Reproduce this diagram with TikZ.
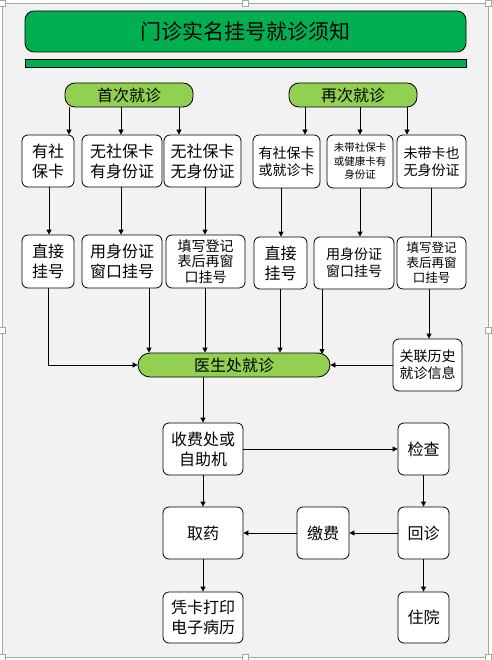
\documentclass[tikz,border=0pt]{standalone}
\usepackage{fontspec}
\setmainfont{Noto Sans CJK SC}
\usetikzlibrary{arrows.meta}
\definecolor{gA}{HTML}{00B050}
\definecolor{gB}{HTML}{92D050}
\definecolor{bg}{HTML}{F2F2F2}
\definecolor{frm}{HTML}{A6A6A6}
\newcommand{\fs}[2]{\fontsize{#1}{#2}\selectfont}
\tikzset{
  x=1pt,y=-1pt,
  box/.style={draw, line width=0.8pt, rounded corners=6pt, fill=white, inner sep=0pt, align=center, font=\fs{16}{20}},
  pill/.style={draw, line width=0.8pt, fill=gB, inner sep=0pt, align=center, font=\fs{16}{20}},
  conn/.style={line width=0.8pt},
  arr/.style={line width=0.8pt, -{Triangle[length=5pt,width=5pt]}},
  handle/.style={draw=frm, fill=white, line width=0.6pt, minimum size=6pt, inner sep=0pt}
}
\begin{document}
\begin{tikzpicture}
\useasboundingbox (0,0) rectangle (491,660);
\fill[white] (0,0) rectangle (491,660);
\draw[frm, fill=bg, line width=0.8pt] (2,3) rectangle (488,657);
\foreach \p/\q in {2/3,245/3,488/3,2/330,488/330,2/657,245/657,488/657}
  \node[handle] at (\p,\q) {};

% title
\node[draw, line width=0.8pt, fill=gA, rounded corners=9pt, minimum width=441pt, minimum height=41pt, inner sep=0pt, font=\fs{21}{24}] (title) at (245.5,31.5) {门诊实名挂号就诊须知};
\node[draw, line width=0.8pt, fill=gA, minimum width=441pt, minimum height=8pt, inner sep=0pt] (bar) at (245.5,63) {};

\node[pill, rounded corners=10pt, minimum width=128pt, minimum height=24pt] (first) at (129,95) {首次就诊};
\node[pill, rounded corners=10pt, minimum width=128pt, minimum height=24pt] (again) at (353,95) {再次就诊};

% row 1 left
\node[box, minimum width=52pt, minimum height=52pt] (a1) at (48,161) {有社\\保卡};
\node[box, minimum width=80pt, minimum height=52pt] (b1) at (122,161) {无社保卡\\有身份证};
\node[box, minimum width=77pt, minimum height=52pt] (c1) at (202.5,161) {无社保卡\\无身份证};
% row 2 left
\node[box, minimum width=52pt, minimum height=53pt] (a2) at (48,261.5) {直接\\挂号};
\node[box, minimum width=80pt, minimum height=53pt] (b2) at (122,261.5) {用身份证\\窗口挂号};
\node[box, minimum width=79pt, minimum height=53pt, font=\fs{14}{15.5}] (c2) at (205.5,261.5) {填写登记\\表后再窗\\口挂号};
% row 1 right
\node[box, minimum width=67pt, minimum height=53pt, font=\fs{14}{17}] (d1) at (286.5,161.5) {有社保卡\\或就诊卡};
\node[box, minimum width=66pt, minimum height=53pt, font=\fs{10.5}{13.5}] (e1) at (360,161.5) {未带社保卡\\或健康卡有\\身份证};
\node[box, minimum width=69pt, minimum height=53pt, font=\fs{14}{17}] (f1) at (431.5,161.5) {未带卡也\\无身份证};
% row 2 right
\node[box, minimum width=53pt, minimum height=52pt] (d2) at (280.5,263) {直接\\挂号};
\node[box, minimum width=80pt, minimum height=52pt, font=\fs{14}{17}] (e2) at (354,263) {用身份证\\窗口挂号};
\node[box, minimum width=69pt, minimum height=52pt, font=\fs{12.5}{15}] (f2) at (431.5,263) {填写登记\\表后再窗\\口挂号};

\node[pill, rounded corners=12pt, minimum width=192pt, minimum height=24pt] (doc) at (234,365) {医生处就诊};
\node[box, minimum width=69pt, minimum height=52pt, font=\fs{14}{17}] (rel) at (427.5,365) {关联历史\\就诊信息};

\node[box, minimum width=80pt, minimum height=52pt] (pay) at (203,449) {收费处或\\自助机};
\node[box, minimum width=51pt, minimum height=52pt] (chk) at (423.5,449) {检查};
\node[box, minimum width=80pt, minimum height=52pt] (med) at (203,533) {取药};
\node[box, minimum width=52pt, minimum height=52pt] (fee) at (323,533) {缴费};
\node[box, minimum width=51pt, minimum height=52pt] (back) at (423.5,533) {回诊};
\node[box, minimum width=80pt, minimum height=51pt] (prt) at (203,617.5) {凭卡打印\\电子病历};
\node[box, minimum width=51pt, minimum height=51pt] (hosp) at (423.5,617.5) {住院};

% from first / again
\draw[arr] (first.south -| 69,0) -- (a1.north -| 69,0);
\draw[arr] (first.south -| 121,0) -- (b1.north -| 121,0);
\draw[arr] (first.south -| 179,0) -- (c1.north -| 179,0);
\draw[arr] (again.south -| 305,0) -- (d1.north -| 305,0);
\draw[arr] (again.south -| 360,0) -- (e1.north -| 360,0);
\draw[arr] (again.south -| 407,0) -- (f1.north -| 407,0);

% row1 -> row2
\draw[arr] (a1.south -| 49,0) -- (a2.north -| 49,0);
\draw[arr] (b1.south -| 121,0) -- (b2.north -| 121,0);
\draw[arr] (c1.south -| 205,0) -- (c2.north -| 205,0);
\draw[arr] (d1.south -| 281,0) -- (d2.north -| 281,0);
\draw[arr] (e1.south -| 360,0) -- (e2.north -| 360,0);
\draw[conn] (f1.south -| 431,0) -- (f2.north -| 431,0);

% row2 -> doctor
\draw[arr] (a2.south -| 48,0) |- (doc.west);
\draw[arr] (b2.south -| 149,0) -- (doc.north -| 149,0);
\draw[arr] (c2.south -| 205,0) -- (doc.north -| 205,0);
\draw[arr] (d2.south -| 280,0) -- (doc.north -| 280,0);
\draw[arr] (e2.south -| 322,0) -- (322,354);
\draw[arr] (f2.south -| 429,0) -- (rel.north -| 429,0);
\draw[arr] (rel.west) -- (doc.east);

% lower part
\draw[arr] (doc.south -| pay.north) -- (pay.north);
\draw[arr] (pay.east) -- (chk.west);
\draw[arr] (chk.south) -- (back.north);
\draw[arr] (back.west) -- (fee.east);
\draw[arr] (fee.west) -- (med.east);
\draw[arr] (pay.south) -- (med.north);
\draw[arr] (med.south) -- (prt.north);
\draw[arr] (back.south) -- (hosp.north);
\end{tikzpicture}
\end{document}
